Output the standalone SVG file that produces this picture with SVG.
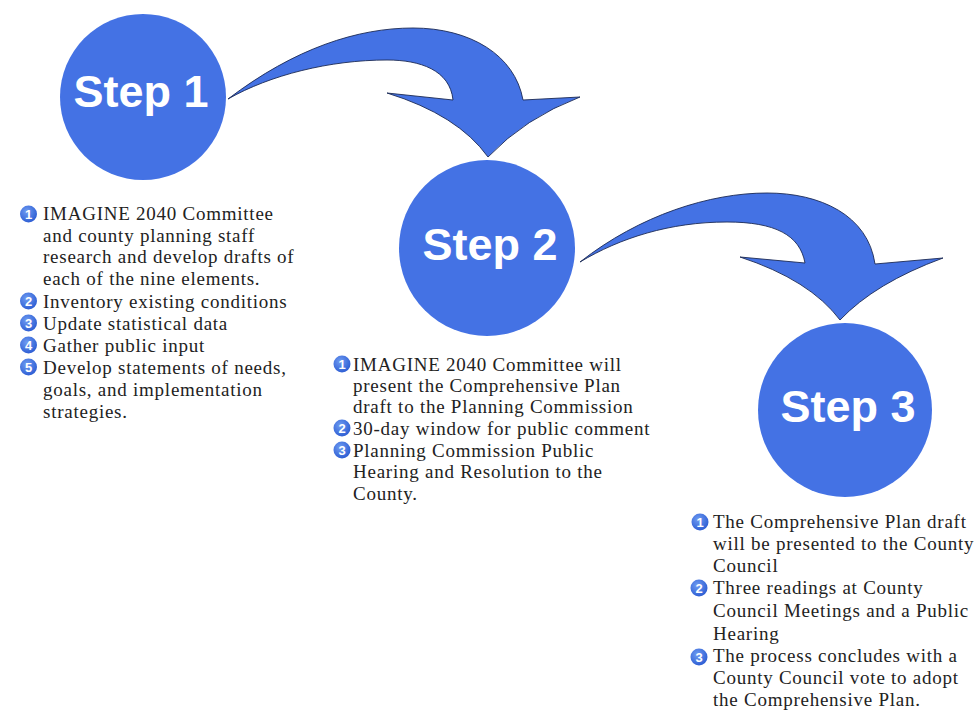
<svg xmlns="http://www.w3.org/2000/svg" width="979" height="716" viewBox="0 0 979 716">
<defs>
<radialGradient id="bg" cx="40%" cy="35%" r="65%">
<stop offset="0" stop-color="#6f9cf2"/>
<stop offset="1" stop-color="#2f5fd4"/>
</radialGradient>
</defs>
<style>
.circ{fill:#4472e4}
.stp{font-family:"Liberation Sans",Arial,sans-serif;font-weight:bold;font-size:45px;fill:#ffffff;text-anchor:middle}
.arr{fill:#4472e4;stroke:#1c2a55;stroke-width:0.9;stroke-linejoin:miter}
.body{font-family:"Liberation Serif","Times New Roman",serif;font-size:19px;letter-spacing:0.75px;fill:#222222}
.bul{fill:url(#bg)}
.num{font-family:"Liberation Sans",Arial,sans-serif;font-weight:bold;font-size:13px;fill:#ffffff;text-anchor:middle}
</style>
<rect width="979" height="716" fill="#ffffff"/>
<g id="connectors">
<path class="arr" d="M228,99 C295,48 358,28 413,28 C470,28 515,55 523,100 L580,97 Q525,118 488,157 Q458,115 387,93 L453,100 C450,70 420,60 387,60 C330,60 270,75 228,99 Z"/>
<path class="arr" d="M580,262 C640,215 710,193 767,193 C820,193 868,215 875,264 L943,258 Q875,283 840,320 Q810,280 740,257 L805,263 C800,235 775,222 727,222 C670,222 620,238 580,262 Z"/>
</g>
<g id="step1">
<circle class="circ" cx="143" cy="97" r="83"/>
<text class="stp" x="141" y="107">Step 1</text>
</g>
<g id="step2">
<circle class="circ" cx="487" cy="248" r="88"/>
<text class="stp" x="490" y="260">Step 2</text>
</g>
<g id="step3">
<circle class="circ" cx="845" cy="410" r="87"/>
<text class="stp" x="848" y="422">Step 3</text>
</g>
<g id="list1">
<circle class="bul" cx="28.5" cy="214" r="8.5"/><text class="num" x="28.5" y="218.5">1</text>
<circle class="bul" cx="28.5" cy="301" r="8.5"/><text class="num" x="28.5" y="305.5">2</text>
<circle class="bul" cx="28.5" cy="323" r="8.5"/><text class="num" x="28.5" y="327.5">3</text>
<circle class="bul" cx="28.5" cy="345" r="8.5"/><text class="num" x="28.5" y="349.5">4</text>
<circle class="bul" cx="28.5" cy="367" r="8.5"/><text class="num" x="28.5" y="371.5">5</text>
<text class="body" x="43" y="220">IMAGINE 2040 Committee</text>
<text class="body" x="43" y="242">and county planning staff</text>
<text class="body" x="43" y="263">research and develop drafts of</text>
<text class="body" x="43" y="285">each of the nine elements.</text>
<text class="body" x="43" y="308">Inventory existing conditions</text>
<text class="body" x="43" y="330">Update statistical data</text>
<text class="body" x="43" y="352">Gather public input</text>
<text class="body" x="43" y="374">Develop statements of needs,</text>
<text class="body" x="43" y="396">goals, and implementation</text>
<text class="body" x="43" y="418">strategies.</text>
</g>
<g id="list2">
<circle class="bul" cx="342" cy="364" r="8.5"/><text class="num" x="342" y="368.5">1</text>
<circle class="bul" cx="342" cy="428" r="8.5"/><text class="num" x="342" y="432.5">2</text>
<circle class="bul" cx="342" cy="450" r="8.5"/><text class="num" x="342" y="454.5">3</text>
<text class="body" x="353" y="371">IMAGINE 2040 Committee will</text>
<text class="body" x="353" y="392">present the Comprehensive Plan</text>
<text class="body" x="353" y="413">draft to the Planning Commission</text>
<text class="body" x="353" y="435">30-day window for public comment</text>
<text class="body" x="353" y="457">Planning Commission Public</text>
<text class="body" x="353" y="478">Hearing and Resolution to the</text>
<text class="body" x="353" y="500">County.</text>
</g>
<g id="list3">
<circle class="bul" cx="700" cy="522" r="8.5"/><text class="num" x="700" y="526.5">1</text>
<circle class="bul" cx="699" cy="588" r="8.5"/><text class="num" x="699" y="592.5">2</text>
<circle class="bul" cx="699" cy="657" r="8.5"/><text class="num" x="699" y="661.5">3</text>
<text class="body" x="713" y="528">The Comprehensive Plan draft</text>
<text class="body" x="713" y="550">will be presented to the County</text>
<text class="body" x="713" y="572">Council</text>
<text class="body" x="713" y="594">Three readings at County</text>
<text class="body" x="713" y="617">Council Meetings and a Public</text>
<text class="body" x="713" y="640">Hearing</text>
<text class="body" x="713" y="662">The process concludes with a</text>
<text class="body" x="713" y="684">County Council vote to adopt</text>
<text class="body" x="713" y="706">the Comprehensive Plan.</text>
</g>
</svg>
